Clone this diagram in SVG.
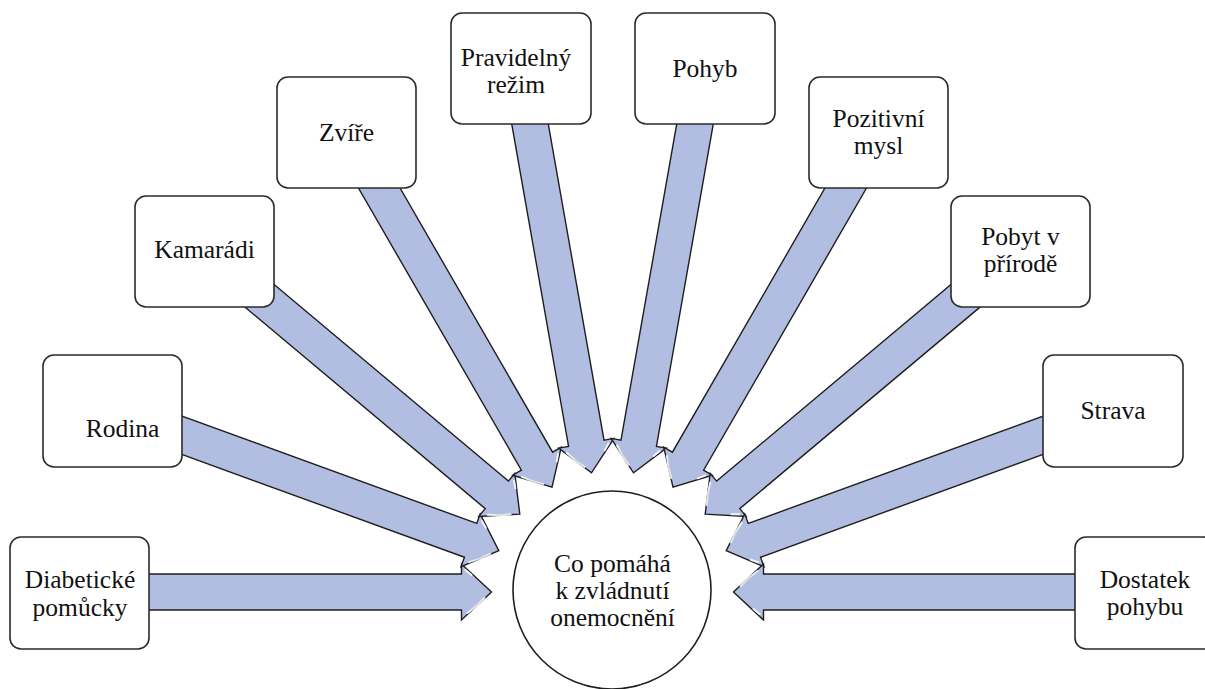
<svg xmlns="http://www.w3.org/2000/svg" xmlns:xlink="http://www.w3.org/1999/xlink" width="1205" height="689" viewBox="0 0 1205 689">
<style>
.box{fill:#ffffff;stroke:#2b2b2b;stroke-width:1.6}
.lbl{font-family:'Liberation Serif','DejaVu Serif',serif;font-size:25.5px;fill:#111111;text-anchor:middle}
.arrow{fill:#b2bee1;stroke:#1e1e1e;stroke-width:1.4;stroke-linejoin:miter}
.hl{fill:none;stroke:#ffffff;stroke-width:2;stroke-linecap:round;opacity:0.85}
</style>
<defs>
<g id="arr">
<path class="arrow" d="M -411 -18 L -30 -18 L -30 -28 L 0 0 L -30 28 L -30 18 L -411 18 Z"/>
<path class="hl" d="M -24 21 Q -14 14 -7 6"/>
<path class="hl" d="M -26 -22 L -20 -17"/>
</g>
</defs>
<rect width="1205" height="689" fill="#ffffff"/>
<g id="connectors">
<use xlink:href="#arr" transform="translate(491.5,592) rotate(0)"/>
<use xlink:href="#arr" transform="translate(498.8,550.6) rotate(20)"/>
<use xlink:href="#arr" transform="translate(519.8,514.2) rotate(40)"/>
<use xlink:href="#arr" transform="translate(552,487.2) rotate(60)"/>
<use xlink:href="#arr" transform="translate(591.5,472.8) rotate(80)"/>
<use xlink:href="#arr" transform="translate(633.5,472.8) rotate(100)"/>
<use xlink:href="#arr" transform="translate(673,487.2) rotate(120)"/>
<use xlink:href="#arr" transform="translate(705.2,514.2) rotate(140)"/>
<use xlink:href="#arr" transform="translate(726.2,550.6) rotate(160)"/>
<use xlink:href="#arr" transform="translate(733.5,592) rotate(180)"/>
</g>
<g font-family="Liberation Serif, DejaVu Serif, serif">
<g id="center">
<circle cx="612" cy="590" r="99" fill="#ffffff" stroke="#1e1e1e" stroke-width="1.6"/>
<text class="lbl" x="612.5" y="572">Co pomáhá</text>
<text class="lbl" x="612.5" y="599">k zvládnutí</text>
<text class="lbl" x="612.5" y="626">onemocnění</text>
</g>
<g id="n-diabeticke">
<rect class="box" x="10" y="537" width="139" height="112" rx="11"/>
<text class="lbl" x="80" y="588">Diabetické</text>
<text class="lbl" x="80" y="616">pomůcky</text>
</g>
<g id="n-rodina">
<rect class="box" x="43" y="355" width="139" height="112" rx="11"/>
<text class="lbl" x="122.5" y="437">Rodina</text>
</g>
<g id="n-kamaradi">
<rect class="box" x="135" y="196" width="139" height="111" rx="11"/>
<text class="lbl" x="204.5" y="258">Kamarádi</text>
</g>
<g id="n-zvire">
<rect class="box" x="277" y="77" width="139" height="111" rx="11"/>
<text class="lbl" x="346.5" y="141">Zvíře</text>
</g>
<g id="n-pravidelny">
<rect class="box" x="451" y="13" width="140" height="111" rx="11"/>
<text class="lbl" x="516" y="66">Pravidelný</text>
<text class="lbl" x="516" y="93">režim</text>
</g>
<g id="n-pohyb">
<rect class="box" x="635" y="13" width="140" height="111" rx="11"/>
<text class="lbl" x="705" y="77">Pohyb</text>
</g>
<g id="n-pozitivni">
<rect class="box" x="809" y="77" width="139" height="111" rx="11"/>
<text class="lbl" x="878.5" y="127">Pozitivní</text>
<text class="lbl" x="878.5" y="154">mysl</text>
</g>
<g id="n-pobyt">
<rect class="box" x="951" y="196" width="139" height="111" rx="11"/>
<text class="lbl" x="1020.5" y="245">Pobyt v</text>
<text class="lbl" x="1020.5" y="272">přírodě</text>
</g>
<g id="n-strava">
<rect class="box" x="1043" y="355" width="140" height="112" rx="11"/>
<text class="lbl" x="1113" y="419">Strava</text>
</g>
<g id="n-dostatek">
<rect class="box" x="1075" y="537" width="139" height="112" rx="11"/>
<text class="lbl" x="1145" y="588">Dostatek</text>
<text class="lbl" x="1145" y="615">pohybu</text>
</g>
</g>
</svg>
